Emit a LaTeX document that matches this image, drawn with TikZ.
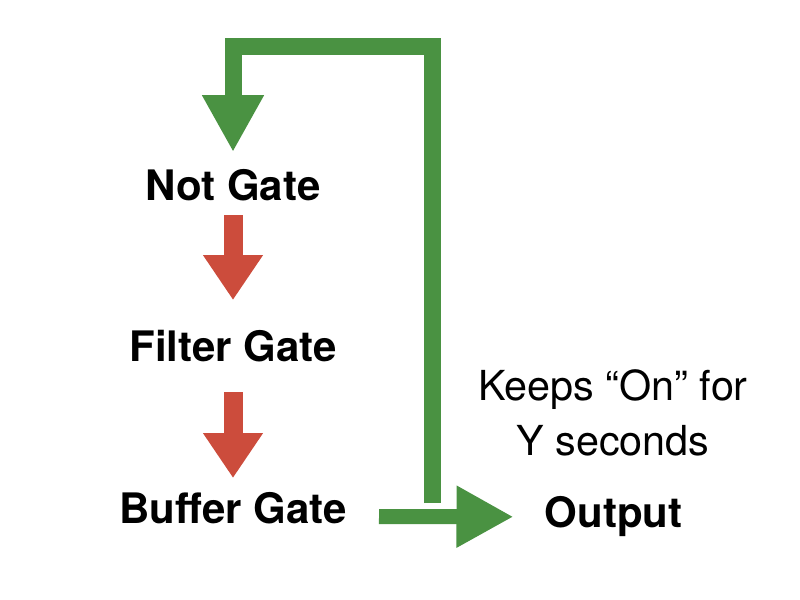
\documentclass[tikz,border=0pt]{standalone}
\usepackage{fontspec}
\setmainfont{TeX Gyre Heros}
\usetikzlibrary{positioning, arrows.meta}

\definecolor{loopgreen}{RGB}{74,146,66}
\definecolor{stepred}{RGB}{204,76,60}

\tikzset{
  gate/.style={font=\fontsize{31.5}{36}\selectfont\bfseries, inner sep=0pt},
  note/.style={font=\fontsize{31}{41}\selectfont, align=center, inner sep=0pt},
  redarrow/.style={stepred, line width=14.25pt,
    -{Triangle[width=42.75pt, length=33.75pt]}},
  greenarrow/.style={loopgreen, line width=12.75pt, line join=miter,
    -{Triangle[width=43.5pt, length=42.75pt]}},
}

\begin{document}
\begin{tikzpicture}[x=0.75pt, y=-0.75pt]
\useasboundingbox (0,0) rectangle (800,600);

\node[gate] (notgate) at (233,185) {Not Gate};
\node[gate] (filtergate) at (233,346) {Filter Gate};
\node[gate] (buffergate) at (233,508) {Buffer Gate};
\node[gate] (output) at (613.5,517) {Output};
\node[note] (keeps) at (613,413) {Keeps “On” for\\Y seconds};

\coordinate (loopbottom) at (432.5,503);
\coordinate (looptop) at (432.5,46.5);
\coordinate (outstart) at (379,516.5);

\draw[redarrow, shorten <=22.5pt, shorten >=34.5pt]
  (notgate.center) -- (filtergate.center);
\draw[redarrow, shorten <=34.5pt, shorten >=22.5pt]
  (filtergate.center) -- (buffergate.center);
\draw[greenarrow, shorten >=24.75pt] (loopbottom) -- (looptop) -| (notgate.center);
\draw[greenarrow, shorten >=75pt, line width=11.25pt] (outstart) -- (output.center);
\end{tikzpicture}
\end{document}
